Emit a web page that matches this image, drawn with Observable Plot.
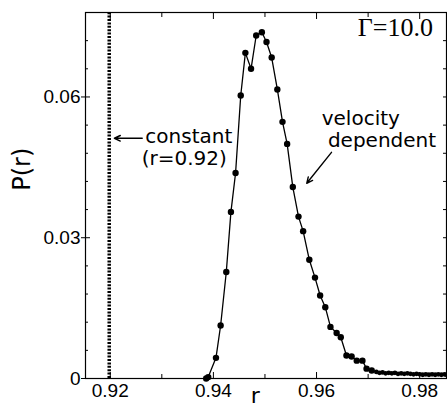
<!DOCTYPE html>
<html>
<head>
<meta charset="utf-8">
<script src="https://cdn.jsdelivr.net/npm/d3@7"></script>
<script src="https://cdn.jsdelivr.net/npm/@observablehq/plot@0.6"></script>
<style>
  html, body { margin: 0; padding: 0; background: white; }
</style>
</head>
<body>
<div id="chart"></div>
<script>
// velocity dependent restitution: P(r) samples
const rValues = [0.9386, 0.9390, 0.9405, 0.9414, 0.9425, 0.9434, 0.9443, 0.9453, 0.9462, 0.9473, 0.9483, 0.9494, 0.9503, 0.9513, 0.9524, 0.9534, 0.9543, 0.9554, 0.9565, 0.9574, 0.9586, 0.9597, 0.9607, 0.9617, 0.9627, 0.9639, 0.9647, 0.9658, 0.9668, 0.9678, 0.9689, 0.9697, 0.9707, 0.9716, 0.9722, 0.9728, 0.9734, 0.9740, 0.9746, 0.9752, 0.9758, 0.9764, 0.9770, 0.9776, 0.9782, 0.9788, 0.9794, 0.9800, 0.9806, 0.9812, 0.9818, 0.9824, 0.9830, 0.9836, 0.9842, 0.9848, 0.9852];
const pValues = [0.0000, 0.0003, 0.0044, 0.0113, 0.0227, 0.0355, 0.0438, 0.0603, 0.0694, 0.0660, 0.0731, 0.0738, 0.0717, 0.0684, 0.0616, 0.0547, 0.0500, 0.0408, 0.0345, 0.0314, 0.0253, 0.0215, 0.0177, 0.0152, 0.0110, 0.0097, 0.0088, 0.0049, 0.0047, 0.0038, 0.0038, 0.0021, 0.0017, 0.0014, 0.0012, 0.0013, 0.0011, 0.0012, 0.0011, 0.0012, 0.0010, 0.0011, 0.0010, 0.0011, 0.0010, 0.0009, 0.0010, 0.0009, 0.0008, 0.0009, 0.0008, 0.0009, 0.0008, 0.0009, 0.0008, 0.0009, 0.0008];

// constant restitution
const constantR = [0.9198];

// axis ticks
const xMajorTicks = [0.92, 0.94, 0.96, 0.98];
const xMinorTicks = [0.93, 0.95, 0.97];
const yMajorTicks = [0, 0.03, 0.06];
const yMinorTicks = [0.006, 0.012, 0.018, 0.024, 0.036, 0.042, 0.048, 0.054, 0.066, 0.072];

// annotations (data coordinates)
const sansLabels = [
  {x: 0.9268, y: 0.0516, text: "constant"},
  {x: 0.9261, y: 0.0468, text: "(r=0.92)"},
  {x: 0.9610, y: 0.0554, text: "velocity"},
  {x: 0.9622, y: 0.0507, text: "dependent"}
];
const gammaLabel = [{x: 0.9680, y: 0.0748, text: "Γ=10.0"}];
const arrows = [
  {x1: 0.9262, y1: 0.0512, x2: 0.9208, y2: 0.0512},
  {x1: 0.9629, y1: 0.0482, x2: 0.9581, y2: 0.0416}
];

const curve = rValues.map((r, i) => ({r, p: pValues[i]}));
const peakDots = curve.filter(d => d.r <= 0.9710);
const tailDots = curve.filter(d => d.r > 0.9710);

const fmt = d => d === 0 ? "0" : d.toFixed(2);

const chart = Plot.plot({
  width: 447,
  height: 412,
  marginLeft: 85,
  marginRight: 1,
  marginTop: 12,
  marginBottom: 34,
  style: {fontFamily: "Liberation Sans, Arial, sans-serif", fontSize: "18px", background: "white", color: "black"},
  x: {domain: [0.9152, 0.9852]},
  y: {domain: [0, 0.078]},
  marks: [
    Plot.frame({stroke: "black", strokeWidth: 1.2}),
    Plot.axisX({ticks: xMajorTicks, tickFormat: fmt, tickSize: -6, tickPadding: 11, label: null, fontSize: 19}),
    Plot.axisX({ticks: xMinorTicks, tickFormat: () => "", tickSize: -4, label: null}),
    Plot.axisX({anchor: "top", ticks: xMajorTicks, tickFormat: () => "", tickSize: -6, label: null}),
    Plot.axisX({anchor: "top", ticks: xMinorTicks, tickFormat: () => "", tickSize: -4, label: null}),
    Plot.axisY({ticks: yMajorTicks, tickFormat: fmt, tickSize: 4, tickPadding: 1, label: null, fontSize: 19}),
    Plot.axisY({ticks: yMajorTicks, tickFormat: () => "", tickSize: -5, label: null}),
    Plot.axisY({ticks: yMinorTicks, tickFormat: () => "", tickSize: -3, label: null}),
    Plot.axisY({anchor: "right", ticks: yMajorTicks.concat(yMinorTicks), tickFormat: () => "", tickSize: -4, label: null}),
    Plot.ruleX(constantR, {x: d => d, y1: 0, y2: 0.078, stroke: "black", strokeWidth: 3.5, strokeDasharray: "2,1.4"}),
    Plot.line(curve, {x: "r", y: "p", stroke: "black", strokeWidth: 1.3}),
    Plot.dot(peakDots, {x: "r", y: "p", r: 3.2, fill: "black"}),
    Plot.dot(tailDots, {x: "r", y: "p", r: 2.4, fill: "black"}),
    Plot.arrow(arrows, {x1: "x1", y1: "y1", x2: "x2", y2: "y2", stroke: "black", strokeWidth: 1.4, headLength: 7, headAngle: 50}),
    Plot.text(sansLabels, {x: "x", y: "y", text: "text", textAnchor: "start", fontFamily: "DejaVu Sans, sans-serif", fontSize: 20, fill: "black"}),
    Plot.text(gammaLabel, {x: "x", y: "y", text: "text", textAnchor: "start", fontFamily: "Liberation Serif, Times New Roman, serif", fontSize: 26, fill: "black"}),
    Plot.text(["P(r)"], {frameAnchor: "left", y: () => 0.040, rotate: -90, dx: -63, fontFamily: "DejaVu Sans, sans-serif", fontSize: 24, fill: "black"}),
    Plot.text(["r"], {frameAnchor: "bottom", x: () => 0.9481, dy: 24, fontFamily: "DejaVu Sans, sans-serif", fontSize: 22, fill: "black"})
  ]
});

document.getElementById("chart").appendChild(chart);
</script>
</body>
</html>
